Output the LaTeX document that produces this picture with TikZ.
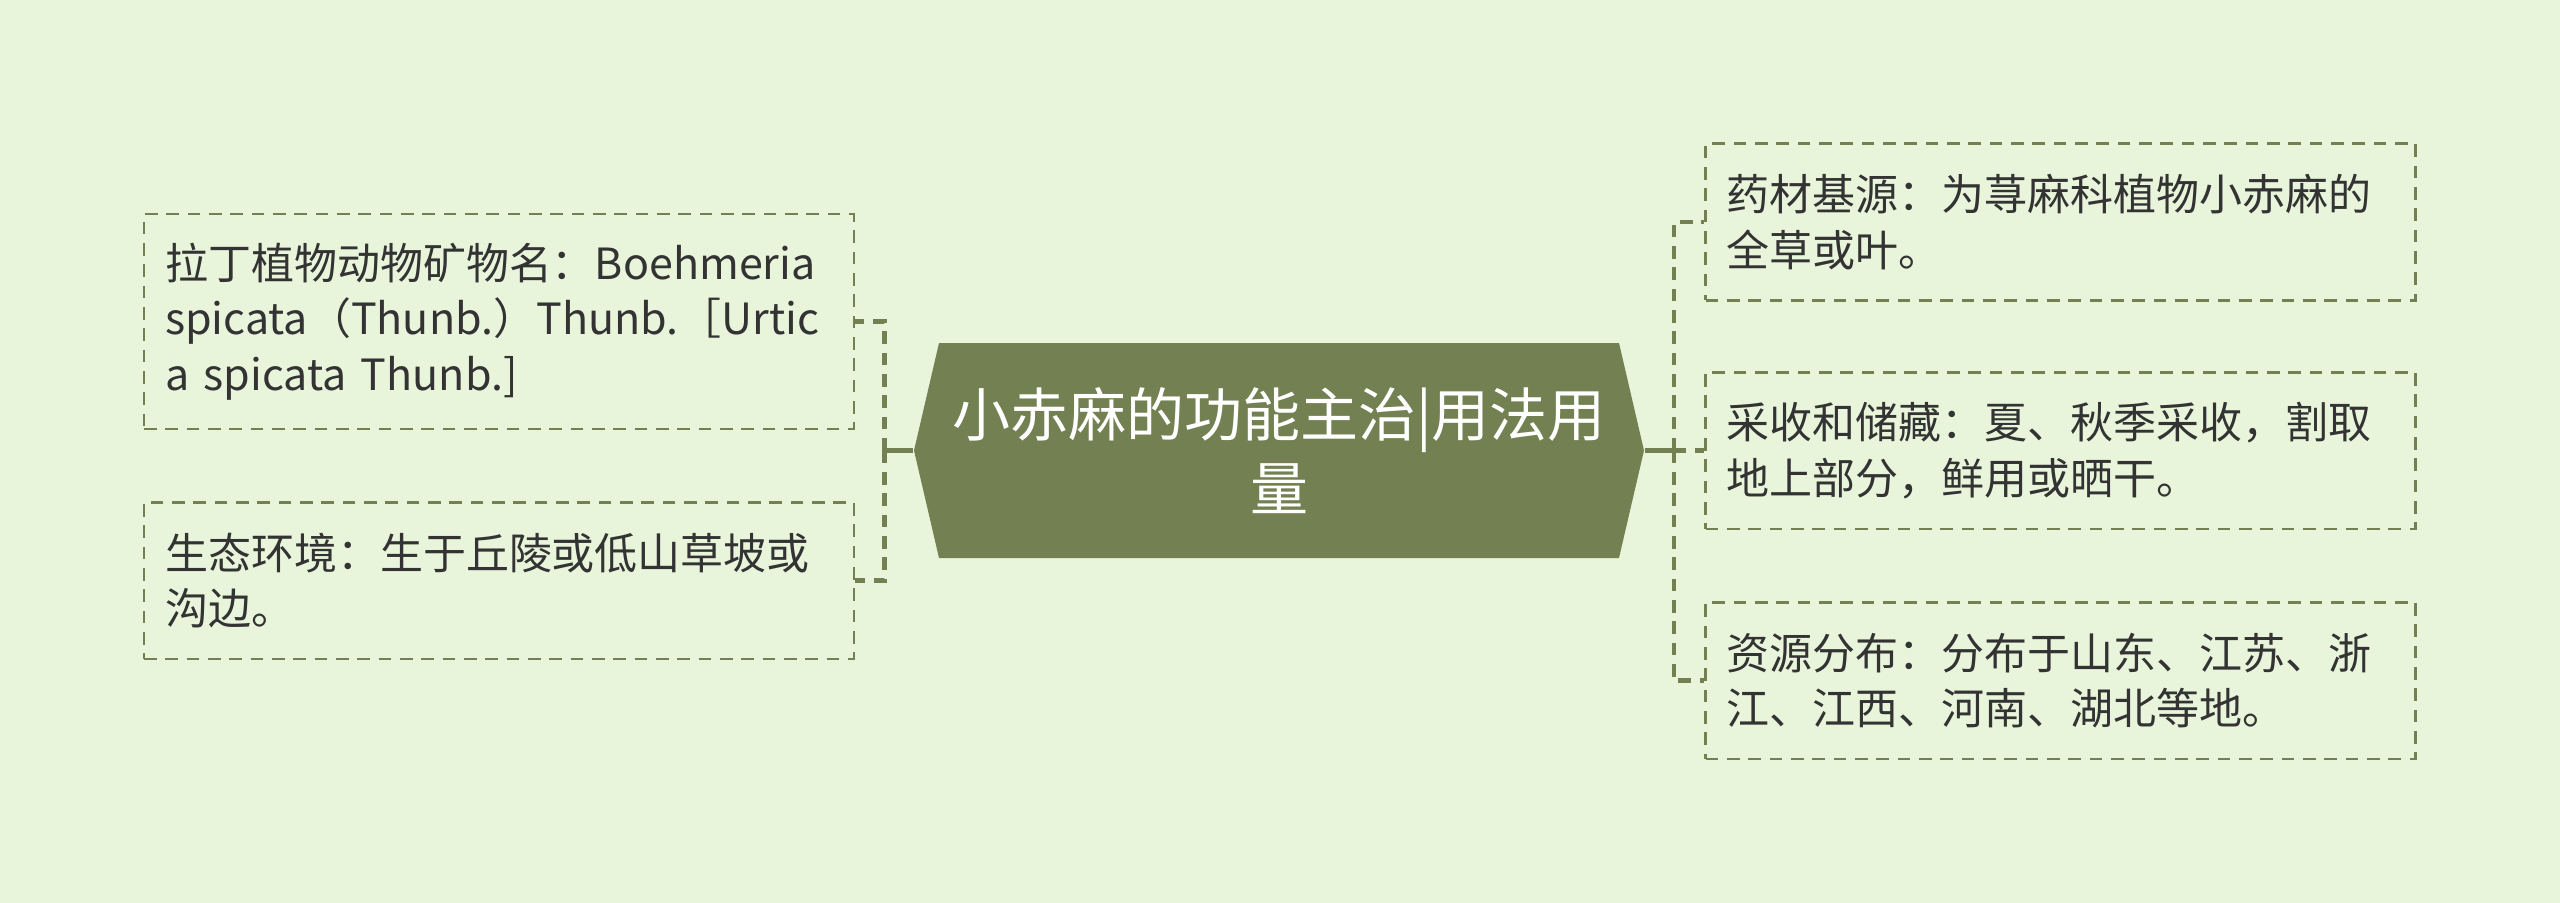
\documentclass[tikz,border=0pt]{standalone}
\usepackage{fontspec}
\setmainfont{Noto Sans CJK SC}
\usepackage{tikz}
\usetikzlibrary{positioning,calc}
\definecolor{paper}{RGB}{232,245,219}
\definecolor{olive}{RGB}{114,128,82}
\definecolor{ink}{RGB}{51,51,51}
\tikzset{
    x=0.3pt,
    y=-0.3pt,
    leaf/.style = {
        draw=olive,
        shape=rectangle,
        dash pattern=on 3.8pt off 2.6pt,
        line width=0.8pt,
        text=ink,
        text width=200.4pt,
        align=left,
        inner xsep=6.3pt,
        inner ysep=0pt,
        minimum height=47pt,
        font=\fontsize{12.9pt}{16.6pt}\selectfont
    },
    tallleaf/.style = {
        leaf,
        minimum height=64.5pt
    },
    hub/.style = {
        shape=rectangle,
        minimum width=219pt,
        minimum height=64.5pt,
        text=white,
        align=center,
        font=\fontsize{17.4pt}{22pt}\selectfont,
        path picture={
            \fill[olive] (path picture bounding box.west)
                -- ($(path picture bounding box.north west)+(7.5pt,0)$)
                -- ($(path picture bounding box.north east)+(-7.5pt,0)$)
                -- (path picture bounding box.east)
                -- ($(path picture bounding box.south east)+(-7.5pt,0)$)
                -- ($(path picture bounding box.south west)+(7.5pt,0)$)
                -- cycle;
        }
    },
    stem/.style = {
        draw=olive,
        line width=1.3pt
    },
    twig/.style = {
        draw=olive,
        line width=1.3pt,
        dash pattern=on 3.8pt off 2.6pt
    }
}

\begin{document}
\begin{tikzpicture}
                \fill[paper] (0,0) rectangle (2560,903);
                \useasboundingbox (0,0) rectangle (2560,903);

                \node[hub] (hub) at (1279,450.5) {小赤麻的功能主治|用法用\\量};

                \node[tallleaf] (latin) at (499,321.5)
                {拉丁植物动物矿物名：Boehmeria\\spicata（Thunb.）Thunb.［Urtic\\a spicata Thunb.]};
                \node[leaf] (habitat) at (499,580.5)
                {生态环境：生于丘陵或低山草坡或\\沟边。};

                \node[leaf] (origin) at (2060.5,222)
                {药材基源：为荨麻科植物小赤麻的\\全草或叶。};
                \node[leaf] (harvest) at (2060.5,450.5)
                {采收和储藏：夏、秋季采收，割取\\地上部分，鲜用或晒干。};
                \node[leaf] (range) at (2060.5,680.5)
                {资源分布：分布于山东、江苏、浙\\江、江西、河南、湖北等地。};

                % left branch
                \path[stem] (hub.west) -- ++(-29,0) coordinate (lfork);
                \path[twig] (lfork) |- (latin.east);
                \path[twig] (lfork) |- (habitat.east);

                % right branch
                \path[stem] (hub.east) -- ++(29,0) coordinate (rfork);
                \path[twig] (rfork) |- (origin.west);
                \path[twig] (rfork) |- (harvest.west);
                \path[twig] (rfork) |- (range.west);
            \end{tikzpicture}
\end{document}
